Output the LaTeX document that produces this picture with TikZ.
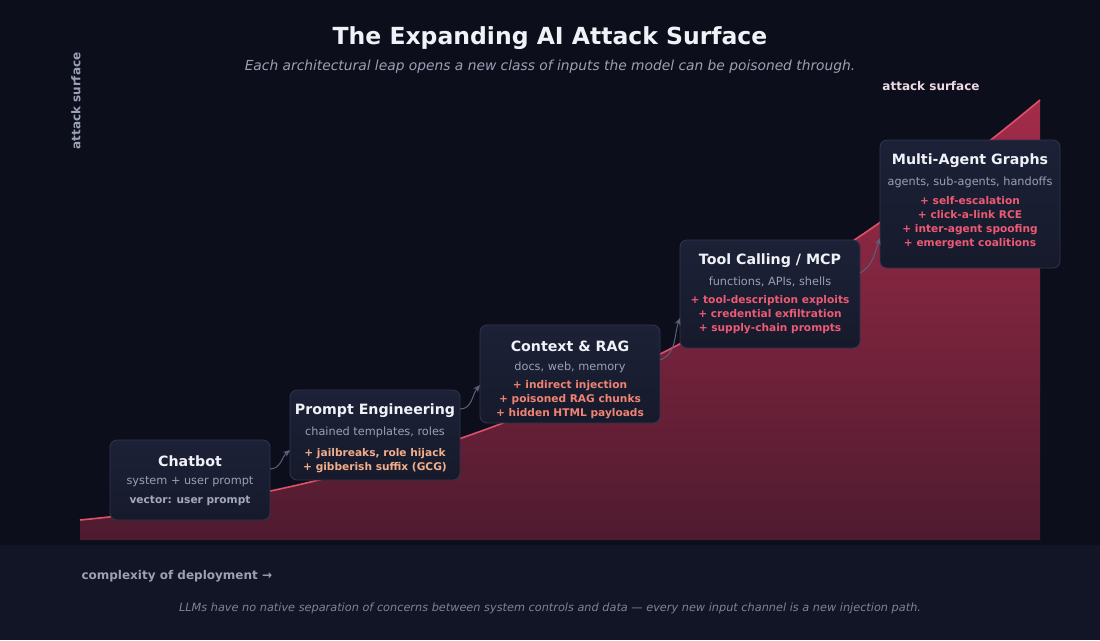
\documentclass[tikz,border=0pt]{standalone}
\usepackage{fontspec}
\setmainfont{DejaVu Sans}
\usetikzlibrary{arrows.meta}
\definecolor{bg}{HTML}{0C0F1B}
\definecolor{bgb}{HTML}{111526}
\definecolor{boxf}{HTML}{1C2137}
\definecolor{boxd}{HTML}{161A2B}
\definecolor{boxl}{HTML}{30364F}
\definecolor{ttl}{HTML}{F0F2F8}
\definecolor{sub}{HTML}{9CA0B4}
\definecolor{curve}{HTML}{E0506A}
\definecolor{fillr}{HTML}{A02A48}
\definecolor{c1}{HTML}{A4A8BC}
\definecolor{c2}{HTML}{F2AE8C}
\definecolor{c3}{HTML}{F08474}
\definecolor{c4}{HTML}{EE5A74}
\definecolor{arr}{HTML}{596078}
\tikzset{x=1pt,y=-1pt,
 box/.style={draw=boxl,line width=0.8pt,rounded corners=7pt,top color=boxf,bottom color=boxd},
 t/.style={text=ttl,font=\bfseries\fontsize{14.2}{17}\selectfont},
 s/.style={text=sub,font=\fontsize{11.3}{13}\selectfont},
 b/.style={font=\bfseries\fontsize{10.6}{14}\selectfont,align=center},
 con/.style={draw=arr,line width=1pt,-{Stealth[length=7pt,width=6pt]}}}
\begin{document}
\begin{tikzpicture}
\useasboundingbox (0,0) rectangle (1100,640);
\fill[bg] (0,0) rectangle (1100,640);
\fill[bgb] (0,545) rectangle (1100,640);
\node[text=ttl,font=\bfseries\fontsize{23.5}{26}\selectfont] (title) at (550,38) {The Expanding AI Attack Surface};
\node[text=sub,font=\itshape\fontsize{13.8}{16}\selectfont] (subt) at (550,67) {Each architectural leap opens a new class of inputs the model can be poisoned through.};
\node[text=sub,font=\bfseries\fontsize{12}{14}\selectfont,rotate=90] (yl) at (76,101) {attack surface};
\node[text=sub,font=\bfseries\fontsize{12}{14}\selectfont,anchor=west] (xl) at (78,576) {complexity of deployment →};
\node[text=ttl!85!curve,font=\bfseries\fontsize{12}{14}\selectfont] (as) at (931,86) {attack surface};
\node[text=sub!80!bg,font=\itshape\fontsize{11.3}{13}\selectfont] (foot) at (550,608) {LLMs have no native separation of concerns between system controls and data — every new input channel is a new injection path.};
\shade[top color=fillr!95!curve,bottom color=fillr!45!bg] (80,520) .. controls (500,480) and (800,300) .. (1040,100) -- (1040,540) -- (80,540) -- cycle;
\draw[curve,line width=1.6pt] (80,520) .. controls (500,480) and (800,300) .. (1040,100);
% boxes
\draw[box] (110,440) rectangle (270,520);
\node[t] (n1) at (190,461) {Chatbot};
\node[s] at (190,482) {system + user prompt};
\node[b,text=c1] at (190,501) {vector: user prompt};
\draw[box] (290,390) rectangle (460,480);
\node[t] (n2) at (375,411) {Prompt Engineering};
\node[s] at (375,432) {chained templates, roles};
\node[b,text=c2] at (375,461) {+ jailbreaks, role hijack\\+ gibberish suffix (GCG)};
\draw[box] (480,325) rectangle (660,423);
\node[t] (n3) at (570,346) {Context \& RAG};
\node[s] at (570,367) {docs, web, memory};
\node[b,text=c3] at (570,400) {+ indirect injection\\+ poisoned RAG chunks\\+ hidden HTML payloads};
\draw[box] (680,240) rectangle (860,348);
\node[t] (n4) at (770,261) {Tool Calling / MCP};
\node[s] at (770,282) {functions, APIs, shells};
\node[b,text=c4] at (770,315) {+ tool-description exploits\\+ credential exfiltration\\+ supply-chain prompts};
\draw[box] (880,140) rectangle (1060,268);
\node[t] (n5) at (970,161) {Multi-Agent Graphs};
\node[s] at (970,182) {agents, sub-agents, handoffs};
\node[b,text=c4] at (970,223) {+ self-escalation\\+ click-a-link RCE\\+ inter-agent spoofing\\+ emergent coalitions};
\coordinate (a1) at (270,469); \coordinate (b1) at (290,450);
\coordinate (a2) at (460,409); \coordinate (b2) at (480,385);
\coordinate (a3) at (660,360); \coordinate (b3) at (680,318);
\coordinate (a4) at (860,273); \coordinate (b4) at (880,238);
\draw[con] (a1) to[out=0,in=220] (b1);
\draw[con] (a2) to[out=0,in=230] (b2);
\draw[con] (a3) to[out=20,in=250] (b3);
\draw[con] (a4) to[out=30,in=250] (b4);
\end{tikzpicture}
\end{document}
